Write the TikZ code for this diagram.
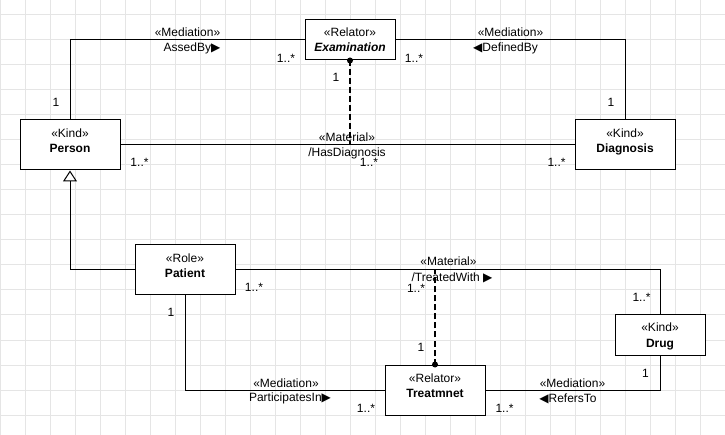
\documentclass[tikz,border=0pt]{standalone}
\usepackage{fontspec}
\setmainfont{Liberation Sans}
\newfontfamily\symfont{DejaVu Sans}
\usepackage{tikz}
\usetikzlibrary{arrows.meta}

\newcommand{\dirright}{{\symfont\fontsize{12}{12}\selectfont ▶}}
\newcommand{\dirleft}{{\symfont\fontsize{12}{12}\selectfont ◀}}

\begin{document}
\begin{tikzpicture}[
        x=1pt, y=-1pt,
        >=Latex,
        gridline/.style={draw=black!10, line width=1pt},
        classbox/.style={
            rectangle,
            draw,
            fill=white,
            line width=1pt,
            minimum width=100pt,
            minimum height=50pt,
            inner sep=0pt,
            align=center,
            text depth=8pt,
            font=\fontsize{12}{15}\selectfont
        },
        smallbox/.style={
            classbox,
            minimum width=90pt,
            minimum height=40pt,
            text height=32pt
        },
        assoc/.style={line width=1pt},
        derived/.style={line width=2pt, dash pattern=on 6pt off 3pt},
        tag/.style={inner sep=0pt, anchor=base, font=\fontsize{12}{14}\selectfont}
    ]

    % Grid
    \useasboundingbox (0,0) rectangle (725,435);
    \fill[white] (0,0) rectangle (725,435);
    \foreach \gx in {0,25,...,725} \draw[gridline] (\gx,0) -- (\gx,435);
    \foreach \gy in {15,40,...,415} \draw[gridline] (0,\gy) -- (725,\gy);

    % Nodes
    \node[classbox] (person) at (70,145) {«Kind»\\\textbf{Person}};
    \node[smallbox] (exam) at (350,40) {«Relator»\\\textbf{\textit{Examination}}};
    \node[classbox] (diag) at (625,145) {«Kind»\\\textbf{Diagnosis}};
    \node[classbox] (patient) at (185,270) {«Role»\\\textbf{Patient}};
    \node[smallbox] (drug) at (660,335) {«Kind»\\\textbf{Drug}};
    \node[classbox] (treat) at (435,390) {«Relator»\\\textbf{Treatmnet}};

    % Arrows
    \draw[assoc] (person.north) |- (exam.west);
    \draw[assoc] (exam.east) -| (diag.north);
    \draw[assoc] (person.east) -- (diag.west);
    \draw[derived] (exam.south) -- (exam.south |- person.east);
    \fill (exam.south) circle (3pt);
    \draw[assoc, -{Triangle[open, length=11pt, width=14pt, fill=white]}] (patient.west) -| (person.south);
    \draw[assoc] (patient.east) -| (drug.north);
    \draw[derived] (treat.north) -- (treat.north |- patient.east);
    \fill (treat.north) circle (3pt);
    \draw[assoc] (patient.south) |- (treat.west);
    \draw[assoc] (treat.east) -| (drug.south);

    % Association labels
    \node[tag] (assedby st) at (187.5,37) {«Mediation»};
    \node[tag] (assedby) at (192,52) {AssedBy\dirright};
    \node[tag] (definedby st) at (510.5,37) {«Mediation»};
    \node[tag] (definedby) at (505.5,52) {\dirleft DefinedBy};
    \node[tag] (hasdiag st) at (347,142) {«Material»};
    \node[tag] (hasdiag) at (347,157) {/HasDiagnosis};
    \node[tag] (treatedwith st) at (448.5,266) {«Material»};
    \node[tag] (treatedwith) at (452,282) {/TreatedWith \dirright};
    \node[tag] (partin st) at (286,387) {«Mediation»};
    \node[tag] (partin) at (290,401) {ParticipatesIn\dirright};
    \node[tag] (refersto st) at (572.5,387) {«Mediation»};
    \node[tag] (refersto) at (568,402) {\dirleft RefersTo};

    % Multiplicities
    \node[tag] (m person exam) at (56,107) {1};
    \node[tag] (m exam person) at (286,63) {1..*};
    \node[tag] (m exam diag) at (414,63) {1..*};
    \node[tag] (m diag exam) at (611,107) {1};
    \node[tag] (m exam mat) at (336,82) {1};
    \node[tag] (m person diag) at (139.5,167) {1..*};
    \node[tag] (m mat exam) at (369,167) {1..*};
    \node[tag] (m diag person) at (556.5,167) {1..*};
    \node[tag] (m patient drug) at (254,292) {1..*};
    \node[tag] (m mat treat) at (416,293) {1..*};
    \node[tag] (m drug patient) at (641.5,302) {1..*};
    \node[tag] (m treat mat) at (421,352) {1};
    \node[tag] (m patient treat) at (171,317) {1};
    \node[tag] (m treat patient) at (366,412) {1..*};
    \node[tag] (m treat drug) at (504.5,412) {1..*};
    \node[tag] (m drug treat) at (645.5,377) {1};

\end{tikzpicture}
\end{document}
